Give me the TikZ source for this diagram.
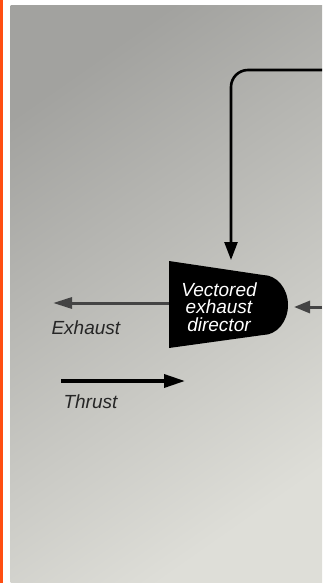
\documentclass[tikz,border=0pt]{standalone}
\usepackage{fontspec}
\setmainfont{Liberation Sans}
\usetikzlibrary{arrows.meta}
\definecolor{screenorange}{RGB}{255,78,18}
\definecolor{paperdark}{RGB}{162,162,159}
\definecolor{paperlight}{RGB}{222,222,216}
\definecolor{flowgray}{RGB}{68,68,68}
\tikzset{
  lbl/.style={font=\fontsize{19}{17.5}\selectfont\itshape, text=black!85},
  flow/.style={flowgray, line width=3pt},
}
\begin{document}
\begin{tikzpicture}[x=1pt,y=-1pt]
  \useasboundingbox (0,0) rectangle (322,583);
  \fill[white] (0,0) rectangle (322,583);
  \fill[screenorange] (0,0) rectangle (2.7,583);
  \shade[top color=paperdark, bottom color=paperlight, shading angle=35] (10.7,5.3) rectangle (322,582);
  % director body
  \fill[black] (169,261) -- (263,275) arc[start angle=-90, end angle=90, x radius=25, y radius=30] -- (169,348) -- cycle;
  \node[lbl, text=white, align=center] (director) at (219,307) {Vectored\\exhaust\\director};
  \coordinate (ctrl) at (322,70); \coordinate (feed) at (322,307);
  \coordinate (dirtop) at (231,260); \coordinate (dirleft) at (169,303); \coordinate (dirright) at (294,307);
  \coordinate (exh) at (53,303); \coordinate (thr0) at (61,381); \coordinate (thr1) at (185,381);
  \draw[line width=2.6pt, rounded corners=17pt, -{Triangle[length=18pt,width=13pt]}] (ctrl) -| (dirtop);
  \draw[flow, -{Triangle[length=19pt,width=11pt]}] (dirleft) -- (exh);
  \draw[flow, -{Triangle[length=16pt,width=12pt]}] (feed) -- (dirright);
  \draw[line width=3.5pt, -{Triangle[length=21pt,width=13pt]}] (thr0) -- (thr1);
  \node[lbl, anchor=west] (exhlbl) at (48,328) {Exhaust};
  \node[lbl, anchor=west] (thrlbl) at (60,402) {Thrust};
\end{tikzpicture}
\end{document}
